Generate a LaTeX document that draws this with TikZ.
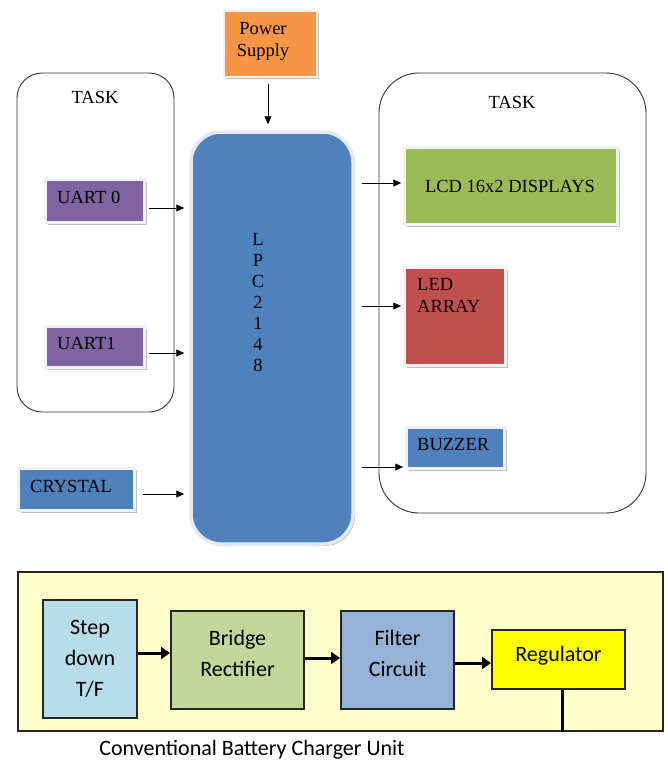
\documentclass[tikz,border=0pt]{standalone}
\usepackage{fontspec}
\setmainfont{Liberation Serif}
\newfontfamily\calib{Carlito}
\usetikzlibrary{arrows.meta,calc,shadows}
\definecolor{orangeF}{HTML}{F79646}
\definecolor{purpleF}{HTML}{8064A2}
\definecolor{blueF}{HTML}{4F81BD}
\definecolor{greenF}{HTML}{9BBB59}
\definecolor{redF}{HTML}{C0504D}
\definecolor{stepF}{HTML}{B7DEE8}
\definecolor{bridgeF}{HTML}{C3D69B}
\definecolor{filterF}{HTML}{95B3D7}
\definecolor{regF}{HTML}{FFFF00}
\definecolor{frameF}{HTML}{FFFFCC}
\definecolor{glowF}{HTML}{E4EAF2}
\begin{document}
\begin{tikzpicture}[x=1pt,y=-1pt,
  tf/.style={font=\fontsize{18.5}{22}\selectfont, inner sep=0pt},
  bf/.style={font=\calib\fontsize{22}{31}\selectfont, inner sep=0pt, align=center},
  fbox/.style={draw=gray!10, line width=2.5pt, inner sep=0pt,
    drop shadow={shadow xshift=2pt,shadow yshift=-2pt,fill=black!40,opacity=0.6}},
  taskbox/.style={draw=black!80, line width=0.9pt, fill=white, inner sep=0pt},
  arr/.style={-{Triangle[length=8pt,width=7pt]}, line width=0.9pt},
  barr/.style={-{Triangle[length=9pt,width=12pt]}, line width=3pt},
  bbox/.style={draw=black!85, line width=2pt, inner sep=0pt}
]
\useasboundingbox (0,0) rectangle (668,760);
\fill[white] (0,0) rectangle (668,760);

% ---------- top part ----------
\node[taskbox, rounded corners=25pt, minimum width=157pt, minimum height=339pt] (taskL) at (95.5,242.5) {};
\node[tf] (taskLt) at (95,97) {TASK};
\node[taskbox, rounded corners=40pt, minimum width=267pt, minimum height=440pt] (taskR) at (512.5,293) {};
\node[tf] (taskRt) at (512,102) {TASK};

\node[fbox, fill=orangeF, minimum width=93pt, minimum height=66pt] (pow) at (270.5,44) {};
\node[tf, align=center, anchor=north] (powt) at (263,22) {Power\\Supply};

\node[fbox, draw=glowF, line width=3.5pt, fill=blueF, rounded corners=30pt,
      minimum width=162pt, minimum height=412pt] (lpc) at (272,338) {};
\node[tf, align=center, anchor=north, font=\fontsize{18.5}{21}\selectfont] (lpct) at (258,233) {L\\P\\C\\2\\1\\4\\8};

\node[fbox, fill=purpleF, minimum width=99pt, minimum height=43pt] (u0) at (95,201) {};
\node[tf, anchor=west] (u0t) at (57,197.5) {UART 0};
\node[fbox, fill=purpleF, minimum width=99pt, minimum height=41pt] (u1) at (95,347) {};
\node[tf, anchor=west] (u1t) at (57,343) {UART1};
\node[fbox, fill=blueF, minimum width=116pt, minimum height=42pt] (crys) at (76.5,489.5) {};
\node[tf, anchor=west] (cryst) at (30,486) {CRYSTAL};

\node[fbox, fill=greenF, minimum width=213pt, minimum height=77pt] (lcd) at (511,186) {};
\node[tf] (lcdt) at (510,186.5) {LCD 16x2 DISPLAYS};
\node[fbox, fill=redF, minimum width=101pt, minimum height=98pt] (led) at (455,316.5) {};
\node[tf, align=left, anchor=north west] (ledt) at (417,278) {LED\\ARRAY};
\node[fbox, fill=blueF, minimum width=98pt, minimum height=41pt] (buz) at (455.5,448) {};
\node[tf, anchor=west] (buzt) at (417,444.5) {BUZZER};

\draw[arr] ($(pow.south)+(-2.5,6)$) -- ($(pow.south |- lpc.north)+(-2.5,-6)$);
\draw[arr] ($(u0.east)+(3,7)$) -- ($(lpc.west |- u0.east)+(-5,7)$);
\draw[arr] ($(u1.east)+(3,6)$) -- ($(lpc.west |- u1.east)+(-5,6)$);
\draw[arr] ($(crys.east)+(7,4.5)$) -- ($(lpc.west |- crys.east)+(-5,4.5)$);
\draw[arr] ($(lpc.east |- lcd.west)+(7,-3)$) -- ($(lcd.west)+(-2,-3)$);
\draw[arr] ($(lpc.east |- led.west)+(7,-10.5)$) -- ($(led.west)+(-2,-10.5)$);
\draw[arr] ($(lpc.east |- buz.west)+(7,19)$) -- ($(buz.west)+(-2,19)$);

% ---------- bottom part ----------
\node[draw=black!85, line width=2.5pt, fill=frameF, inner sep=0pt,
      minimum width=645pt, minimum height=159pt] (frame) at (340.5,651.5) {};
\node[bbox, fill=stepF, minimum width=94pt, minimum height=118pt] (step) at (90,659) {};
\node[bf] (stept) at (90,658.5) {Step\\down\\T/F};
\node[bbox, fill=bridgeF, minimum width=133pt, minimum height=98pt] (bridge) at (237.5,660) {};
\node[bf] (bridget) at (237.5,653) {Bridge\\Rectifier};
\node[bbox, fill=filterF, minimum width=113pt, minimum height=98pt] (filter) at (397.5,660) {};
\node[bf] (filtert) at (397.5,653) {Filter\\Circuit};
\node[bbox, fill=regF, minimum width=133pt, minimum height=59pt] (reg) at (558.5,659.5) {};
\node[bf] (regt) at (558.5,656) {Regulator};

\draw[barr] ($(step.east |- 0,653)$) -- ($(bridge.west |- 0,653)$);
\draw[barr] ($(bridge.east |- 0,658)$) -- ($(filter.west |- 0,658)$);
\draw[barr] ($(filter.east |- 0,663)$) -- ($(reg.west |- 0,663)$);
\draw[line width=3pt] ($(reg.south)+(3.5,0)$) -- ($(reg.south |- frame.south)+(3.5,0)$);

\node[bf] (cap) at (252,750) {Conventional Battery Charger Unit};
\end{tikzpicture}
\end{document}
